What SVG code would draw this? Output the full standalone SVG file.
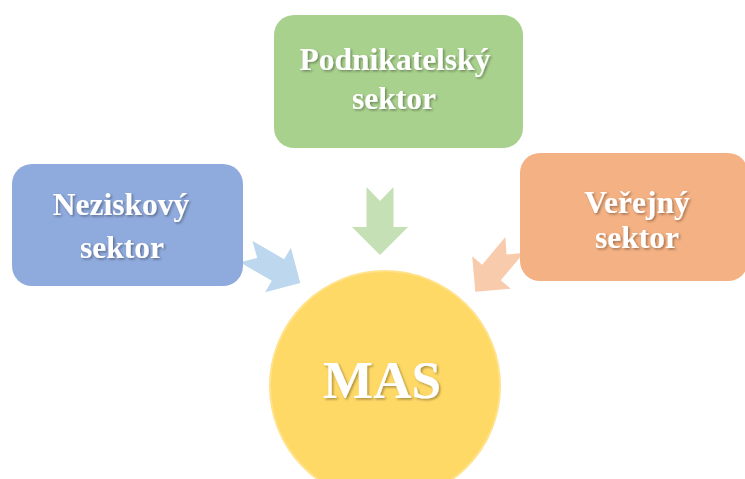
<svg xmlns="http://www.w3.org/2000/svg" width="745" height="479" viewBox="0 0 745 479">
<defs>
<filter id="sh" x="-10%" y="-20%" width="130%" height="150%">
<feDropShadow dx="1.5" dy="1.5" stdDeviation="1" flood-color="#000" flood-opacity="0.35"/>
</filter>
<path id="arr" d="M-13.5,-40 L0,-26 L13.5,-40 L13.5,0 L28,0 L0,28 L-28,0 L-13.5,0 Z"/>
</defs>
<style>
.lbl{font-family:"Liberation Serif","Times New Roman",serif;font-weight:bold;fill:#fff;text-anchor:middle;filter:url(#sh)}
.t{font-size:31.5px}
</style>
<rect width="745" height="479" fill="#fff"/>
<g id="connectors">
<use href="#arr" transform="translate(380,227)" fill="#C5E0B4"/>
<use href="#arr" transform="translate(278,270) rotate(-60) scale(0.92)" fill="#BDD7EE"/>
<use href="#arr" transform="translate(491.5,272.5) rotate(40) scale(0.9)" fill="#F8CBAD"/>
</g>
<g id="podnikatelsky">
<rect x="274" y="15" width="249" height="133" rx="20" fill="#A9D18E"/>
<text class="lbl t" x="395" y="70">Podnikatelský</text>
<text class="lbl t" x="394" y="109">sektor</text>
</g>
<g id="neziskovy">
<rect x="12" y="164" width="231" height="122" rx="20" fill="#8FAADC"/>
<text class="lbl t" x="121" y="215">Neziskový</text>
<text class="lbl t" x="122" y="258">sektor</text>
</g>
<g id="verejny">
<rect x="520" y="153" width="228" height="128" rx="20" fill="#F4B183"/>
<text class="lbl t" x="637" y="213">Veřejný</text>
<text class="lbl t" x="637" y="248">sektor</text>
</g>
<g id="mas">
<circle cx="385" cy="386" r="115" fill="#FFD966" stroke="#FFE28A" stroke-width="2"/>
<text class="lbl" x="382" y="398" font-size="53">MAS</text>
</g>
</svg>
